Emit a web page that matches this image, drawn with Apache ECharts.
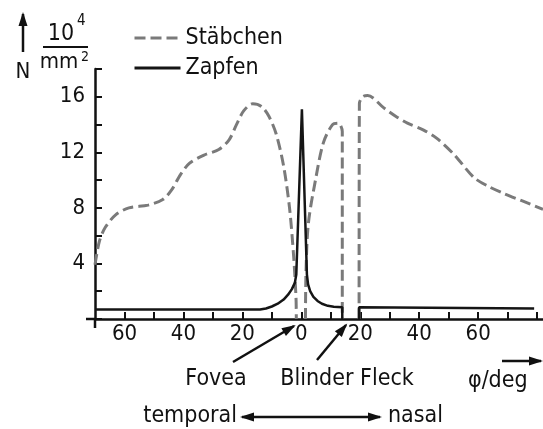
<!DOCTYPE html>
<html>
<head>
<meta charset="utf-8">
<script src="https://cdn.jsdelivr.net/npm/echarts@6/dist/echarts.min.js"></script>
<style>
  html, body { margin: 0; padding: 0; background: #fff; }
  #main { width: 543px; height: 429px; }
</style>
</head>
<body>
<div id="main"></div>
<script>
// Stäbchen (rods), 10^4 per mm^2, '-' marks a gap
const rodAngles = [-70, -68.5, -66.5, -63, -58.5, -52, -47, -44, -41, -38, -33, -28, -24.5, -22, -19.5, -16.5, -13.5, -11, -8.5, -6, -4, -2.6, -1.8, -1.7,
  0, 1.4, 1.6, 2.4, 4.8, 7.5, 10.6, 12.6, 13.9, 13.9,
  16, 19.6, 19.7, 20.8, 22.5, 28, 32, 36, 41.5, 46, 52, 58.5, 63, 68, 75, 82];
const rodDensity = [3.9, 5.6, 6.6, 7.5, 8.0, 8.2, 8.6, 9.3, 10.4, 11.2, 11.8, 12.2, 12.9, 14.0, 15.0, 15.5, 15.3, 14.6, 13.3, 11.0, 8.0, 4.5, 1.5, 0,
  '-', 0, 3.5, 6.9, 10.0, 12.7, 14.0, 14.1, 13.5, 0,
  '-', 0, 15.5, 16.0, 16.1, 15.2, 14.6, 14.1, 13.6, 13.0, 11.8, 10.2, 9.6, 9.1, 8.5, 7.9];

// Zapfen (cones)
const coneAngles = [-70, -14, -12, -10, -8, -6, -4.5, -3.2, -2.2, -1.7, 0.2, 1.9, 2.3, 3, 4.1, 5.5, 7, 9, 11, 13.9, 13.9,
  16, 19.6, 19.6, 79];
const coneDensity = [0.68, 0.68, 0.76, 0.9, 1.1, 1.4, 1.75, 2.15, 2.6, 3.2, 15.1, 3.2, 2.5, 2.0, 1.6, 1.3, 1.1, 0.95, 0.88, 0.85, 0,
  '-', 0, 0.85, 0.75];

const xLabelValues = [-60, -40, -20, 0, 20, 40, 60];
const yLabelValues = [4, 8, 12, 16];

const FONT = "'DejaVu Sans Condensed', 'DejaVu Sans', sans-serif";
const rodColor = '#7a7a7a';
const coneColor = '#151515';

const chartDom = document.getElementById('main');
const myChart = echarts.init(chartDom);

function txt(text, x, y, size, align, valign) {
  return {
    type: 'text', x: x, y: y, z: 50,
    style: {
      text: text, fill: '#111', font: size + 'px ' + FONT,
      textAlign: align || 'center', align: align || 'center',
      textVerticalAlign: valign || 'middle', verticalAlign: valign || 'middle'
    }
  };
}

function arrow(x1, y1, x2, y2, both) {
  const len = 12, half = 4.5;
  const out = [{
    type: 'line', z: 50,
    shape: { x1: x1, y1: y1, x2: x2, y2: y2 },
    style: { stroke: '#111', lineWidth: 2.5 }
  }];
  const head = (ax, ay, bx, by) => {
    const a = Math.atan2(by - ay, bx - ax);
    const cx = bx - len * Math.cos(a), cy = by - len * Math.sin(a);
    const px = -Math.sin(a) * half, py = Math.cos(a) * half;
    return {
      type: 'polygon', z: 51,
      shape: { points: [[bx + Math.cos(a) * 2, by + Math.sin(a) * 2], [cx + px, cy + py], [cx - px, cy - py]] },
      style: { fill: '#111' }
    };
  };
  out.push(head(x1, y1, x2, y2));
  if (both) out.push(head(x2, y2, x1, y1));
  return out;
}

let option = {
  animation: false,
  backgroundColor: '#fff',
  textStyle: { fontFamily: FONT },
  legend: {
    orient: 'vertical',
    left: 128,
    top: 21,
    itemWidth: 46,
    itemHeight: 14,
    itemGap: 6,
    itemStyle: { opacity: 0 },
    lineStyle: { width: 3 },
    textStyle: { fontSize: 23, color: '#111', fontFamily: FONT, lineHeight: 24 },
    data: ['Stäbchen', 'Zapfen']
  },
  grid: { left: 95, right: 0, top: 69, bottom: 110 },
  xAxis: {
    type: 'value',
    min: -70,
    max: 82,
    interval: 10,
    splitLine: { show: false },
    axisLine: { onZero: false, lineStyle: { color: '#111', width: 2.5 } },
    axisTick: { inside: true, length: 7, lineStyle: { color: '#111', width: 2 } },
    axisLabel: {
      margin: 4,
      fontSize: 22,
      color: '#111',
      fontFamily: FONT,
      showMaxLabel: false,
      showMinLabel: false,
      formatter: function (v) { return xLabelValues.indexOf(v) >= 0 ? String(Math.abs(v)) : ''; }
    }
  },
  yAxis: {
    type: 'value',
    min: 0,
    max: 18,
    interval: 2,
    splitLine: { show: false },
    axisLine: { onZero: false, lineStyle: { color: '#111', width: 2.5 } },
    axisTick: { inside: true, length: 7, lineStyle: { color: '#111', width: 2 } },
    axisLabel: {
      margin: 10,
      fontSize: 22,
      color: '#111',
      fontFamily: FONT,
      formatter: function (v) { return yLabelValues.indexOf(v) >= 0 ? String(v) : ''; }
    }
  },
  series: [
    {
      name: 'Stäbchen',
      type: 'line',
      symbol: 'none',
      smooth: 0.3,
      connectNulls: false,
      lineStyle: { color: rodColor, width: 3, type: [11, 5] },
      itemStyle: { color: rodColor },
      data: rodAngles.map((a, i) => [a, rodDensity[i]])
    },
    {
      name: 'Zapfen',
      type: 'line',
      symbol: 'none',
      smooth: false,
      connectNulls: false,
      z: 3,
      lineStyle: { color: coneColor, width: 2.5 },
      itemStyle: { color: coneColor },
      data: coneAngles.map((a, i) => [a, coneDensity[i]])
    }
  ]
};

option && myChart.setOption(option);

// axis overshoot at the origin and the annotations
const o = myChart.convertToPixel({ gridIndex: 0 }, [-70, 0]);
let g = [
  { type: 'line', z: 50, shape: { x1: o[0] - 9, y1: o[1], x2: o[0], y2: o[1] }, style: { stroke: '#111', lineWidth: 2.5 } },
  { type: 'line', z: 50, shape: { x1: o[0], y1: o[1], x2: o[0], y2: o[1] + 9 }, style: { stroke: '#111', lineWidth: 2.5 } },
  txt('N', 23, 72, 22),
  txt('10', 61, 34, 23),
  txt('4', 77, 21, 15, 'left'),
  { type: 'line', z: 50, shape: { x1: 43, y1: 47, x2: 88, y2: 47 }, style: { stroke: '#111', lineWidth: 2 } },
  txt('mm', 59, 62, 22),
  txt('2', 81, 57, 14, 'left'),
  txt('Fovea', 216, 379, 23),
  txt('Blinder Fleck', 347, 379, 23),
  txt('φ/deg', 468, 381, 23, 'left'),
  txt('temporal', 237, 416, 23, 'right'),
  txt('nasal', 388, 416, 23, 'left')
];
g = g.concat(arrow(23, 52, 23, 14));
g = g.concat(arrow(502, 361, 541, 361));
g = g.concat(arrow(233, 362, 294, 326));
g = g.concat(arrow(317, 360, 346, 325));
g = g.concat(arrow(242, 417, 380, 417, true));

myChart.setOption({ graphic: g });

window.addEventListener('resize', function () {
  myChart.resize();
});
</script>
</body>
</html>
